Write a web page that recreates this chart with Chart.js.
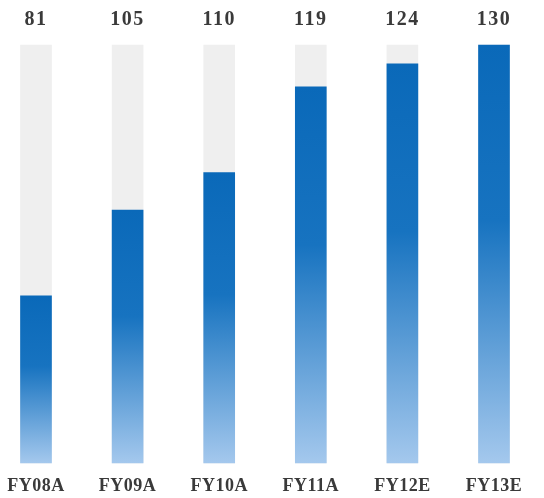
<!DOCTYPE html>
<html>
<head>
<meta charset="utf-8">
<script src="https://cdn.jsdelivr.net/npm/chart.js@4/dist/chart.umd.min.js"></script>
<style>
  html, body { margin: 0; padding: 0; background: #fff; }
  #wrap { width: 544px; height: 498px; }
</style>
</head>
<body>
<div id="wrap"><canvas id="chart" width="544" height="498"></canvas></div>
<script>
const categories = ['FY08A', 'FY09A', 'FY10A', 'FY11A', 'FY12E', 'FY13E'];
const valueLabels = [81, 105, 110, 119, 124, 130];
// filled share of the grey track (%), as drawn in the picture
const fillPct = [40, 60.5, 69.5, 90, 95.5, 100];
const trackPct = [100, 100, 100, 100, 100, 100];

const textColor = '#3a3a3a';

function barGradient(ctx) {
    const chart = ctx.chart;
    if (!chart.chartArea || ctx.raw == null) return '#0a6ab9';
    const y = chart.scales.y;
    const top = y.getPixelForValue(ctx.raw);
    const bottom = y.getPixelForValue(0);
    const g = chart.ctx.createLinearGradient(0, top, 0, bottom);
    g.addColorStop(0, '#0a69b9');
    g.addColorStop(0.42, '#1773c0');
    g.addColorStop(1, '#a4c8ed');
    return g;
}

const labelPlugin = {
    id: 'labels',
    afterDatasetsDraw(chart) {
        const { ctx, chartArea } = chart;
        const x = chart.scales.x;
        ctx.save();
        ctx.fillStyle = textColor;
        ctx.textAlign = 'center';
        ctx.textBaseline = 'middle';
        ctx.font = 'bold 20px "Liberation Serif", serif';
        ctx.letterSpacing = '1.5px';
        valueLabels.forEach((v, i) => {
            ctx.fillText(String(v), x.getPixelForValue(i), chartArea.top - 25);
        });
        ctx.font = 'bold 18px "Liberation Serif", serif';
        ctx.letterSpacing = '0.5px';
        categories.forEach((c, i) => {
            ctx.fillText(c, x.getPixelForValue(i), chartArea.bottom + 23);
        });
        ctx.restore();
    }
};

new Chart(document.getElementById('chart'), {
    type: 'bar',
    data: {
        labels: categories,
        datasets: [
            {
                label: 'fill',
                data: fillPct,
                backgroundColor: barGradient,
                barThickness: 31,
                clip: false
            },
            {
                label: 'track',
                data: trackPct,
                backgroundColor: '#efefef',
                barThickness: 31,
                clip: false
            }
        ]
    },
    options: {
        responsive: false,
        animation: false,
        layout: { padding: { top: 45, bottom: 35, left: 36, right: 50 } },
        plugins: { legend: { display: false }, tooltip: { enabled: false } },
        scales: {
            x: { display: false, stacked: true, offset: false },
            y: { display: false, stacked: false, min: 0, max: 100 }
        }
    },
    plugins: [labelPlugin]
});
</script>
</body>
</html>
